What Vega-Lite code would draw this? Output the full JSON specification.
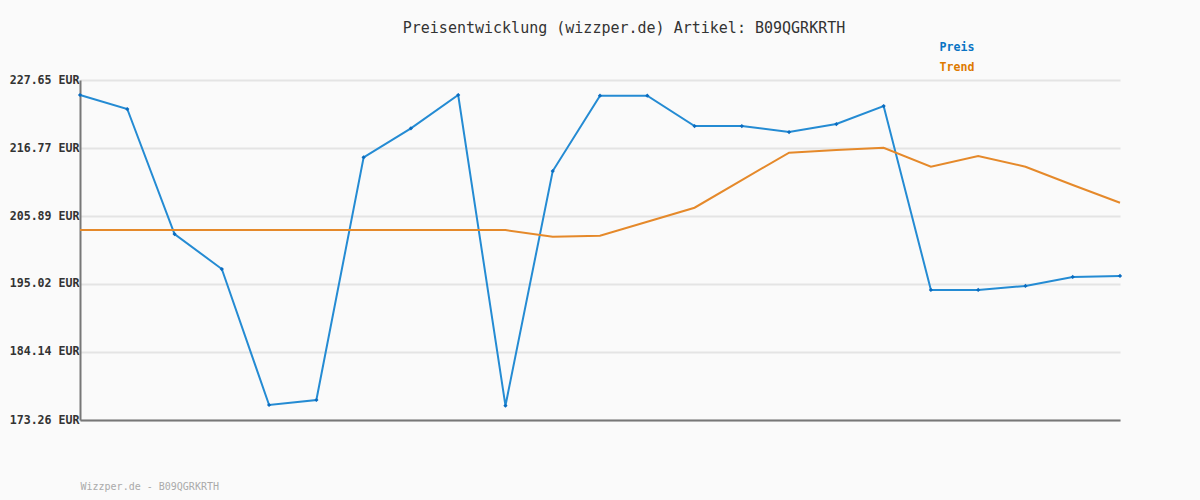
{
  "$schema": "https://vega.github.io/schema/vega-lite/v6.json",
  "width": 1040,
  "height": 340,
  "autosize": "none",
  "padding": {"left": 80, "top": 80, "right": 80, "bottom": 80},
  "background": "#fafafa",
  "title": {
    "text": "Preisentwicklung (wizzper.de) Artikel: B09QGRKRTH",
    "font": "DejaVu Sans Mono",
    "fontSize": 15,
    "fontWeight": "normal",
    "color": "#333333",
    "anchor": "middle",
    "frame": "group",
    "dx": 24,
    "offset": 6
  },
  "config": {
    "view": {"stroke": null},
    "font": "DejaVu Sans Mono"
  },
  "data": {
    "values": [
      {"i": 0, "series": "Preis", "price": 225.25},
      {"i": 1, "series": "Preis", "price": 223.01},
      {"i": 2, "series": "Preis", "price": 203.01},
      {"i": 3, "series": "Preis", "price": 197.41},
      {"i": 4, "series": "Preis", "price": 175.66},
      {"i": 5, "series": "Preis", "price": 176.46},
      {"i": 6, "series": "Preis", "price": 215.28},
      {"i": 7, "series": "Preis", "price": 219.92},
      {"i": 8, "series": "Preis", "price": 225.25},
      {"i": 9, "series": "Preis", "price": 175.55},
      {"i": 10, "series": "Preis", "price": 213.09},
      {"i": 11, "series": "Preis", "price": 225.14},
      {"i": 12, "series": "Preis", "price": 225.14},
      {"i": 13, "series": "Preis", "price": 220.29},
      {"i": 14, "series": "Preis", "price": 220.29},
      {"i": 15, "series": "Preis", "price": 219.33},
      {"i": 16, "series": "Preis", "price": 220.61},
      {"i": 17, "series": "Preis", "price": 223.49},
      {"i": 18, "series": "Preis", "price": 194.06},
      {"i": 19, "series": "Preis", "price": 194.06},
      {"i": 20, "series": "Preis", "price": 194.70},
      {"i": 21, "series": "Preis", "price": 196.14},
      {"i": 22, "series": "Preis", "price": 196.30},
      {"i": 0, "series": "Trend", "price": 203.65},
      {"i": 1, "series": "Trend", "price": 203.65},
      {"i": 2, "series": "Trend", "price": 203.65},
      {"i": 3, "series": "Trend", "price": 203.65},
      {"i": 4, "series": "Trend", "price": 203.65},
      {"i": 5, "series": "Trend", "price": 203.65},
      {"i": 6, "series": "Trend", "price": 203.65},
      {"i": 7, "series": "Trend", "price": 203.65},
      {"i": 8, "series": "Trend", "price": 203.65},
      {"i": 9, "series": "Trend", "price": 203.65},
      {"i": 10, "series": "Trend", "price": 202.58},
      {"i": 11, "series": "Trend", "price": 202.74},
      {"i": 12, "series": "Trend", "price": 204.98},
      {"i": 13, "series": "Trend", "price": 207.22},
      {"i": 14, "series": "Trend", "price": 211.65},
      {"i": 15, "series": "Trend", "price": 216.02},
      {"i": 16, "series": "Trend", "price": 216.45},
      {"i": 17, "series": "Trend", "price": 216.82},
      {"i": 18, "series": "Trend", "price": 213.78},
      {"i": 19, "series": "Trend", "price": 215.49},
      {"i": 20, "series": "Trend", "price": 213.78},
      {"i": 21, "series": "Trend", "price": 210.85},
      {"i": 22, "series": "Trend", "price": 208.02}
    ]
  },
  "encoding": {
    "x": {
      "field": "i",
      "type": "quantitative",
      "scale": {"domain": [0, 22], "nice": false, "zero": false},
      "axis": {
        "title": "Wizzper.de - B09QGRKRTH",
        "titleFont": "DejaVu Sans Mono",
        "titleFontSize": 10,
        "titleFontWeight": "normal",
        "titleColor": "#aaaaaa",
        "titleAnchor": "start",
        "titleAlign": "left",
        "titlePadding": 61,
        "labels": false,
        "ticks": false,
        "grid": false,
        "domainColor": "#777777",
        "domainWidth": 2
      }
    },
    "y": {
      "field": "price",
      "type": "quantitative",
      "scale": {"domain": [173.26, 227.65], "nice": false, "zero": false},
      "axis": {
        "title": null,
        "values": [173.26, 184.14, 195.02, 205.89, 216.77, 227.65],
        "labelExpr": "format(datum.value, '.2f') + ' EUR'",
        "labelFont": "DejaVu Sans Mono",
        "labelFontSize": 11.6,
        "labelFontWeight": "bold",
        "labelColor": "#333333",
        "labelPadding": 1,
        "ticks": false,
        "grid": true,
        "gridColor": "#e4e4e4",
        "gridWidth": 2,
        "domainColor": "#777777",
        "domainWidth": 2
      }
    },
    "color": {
      "field": "series",
      "type": "nominal",
      "scale": {"domain": ["Preis", "Trend"], "range": ["#248bd3", "#e5892a"]},
      "legend": {
        "title": null,
        "orient": "none",
        "legendX": 848,
        "legendY": -38,
        "direction": "vertical",
        "padding": 0,
        "symbolSize": 0,
        "symbolOpacity": 0,
        "symbolStrokeWidth": 0,
        "labelOffset": 0,
        "labelFont": "DejaVu Sans Mono",
        "labelFontSize": 11.6,
        "labelFontWeight": "bold",
        "rowPadding": 7,
        "encode": {
          "labels": {
            "update": {
              "fill": {"signal": "datum.value === 'Preis' ? '#0a74c4' : '#de7a00'"}
            }
          }
        }
      }
    }
  },
  "layer": [
    {
      "mark": {"type": "line", "strokeWidth": 2},
      "encoding": {"detail": {"field": "series"}}
    },
    {
      "transform": [{"filter": "datum.series === 'Preis'"}],
      "mark": {"type": "point", "shape": "diamond", "filled": true, "size": 18, "color": "#0a6cc0", "opacity": 1},
      "encoding": {"color": {"value": "#0a6cc0"}}
    }
  ]
}
